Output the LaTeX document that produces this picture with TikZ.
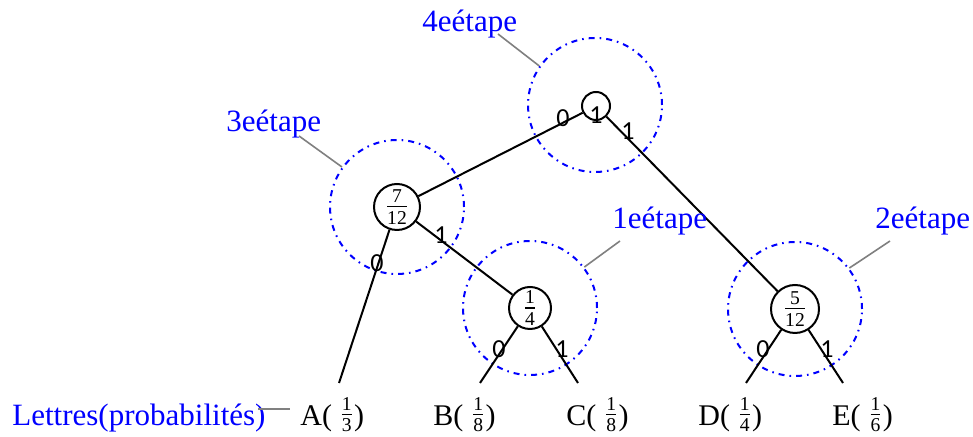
\documentclass[tikz,border=0pt]{standalone}
\usepackage{amsmath}
\usepackage{fontspec}
\setmainfont{Liberation Serif}
\newfontfamily\bitfont{Carlito}
\newcommand\fr[2]{{\fontsize{14}{16}\selectfont\raisebox{2pt}{$\frac{\text{#1}}{\text{#2}}$}}}

\begin{document}
\begin{tikzpicture}[x=0.5pt,y=0.5pt,
  nd/.style={draw=black,circle,line width=1pt,inner sep=0pt},
  stage/.style={draw=blue,circle,line width=1pt,inner sep=0pt,minimum size=67pt,
    dash pattern=on 3pt off 2.5pt on 0.8pt off 2.5pt},
  branch/.style={draw=black,line width=1pt},
  bit/.style={inner sep=0pt,font=\bitfont\fontsize{13}{15}\selectfont},
  stagetxt/.style={text=blue,anchor=base west,inner sep=0pt,font=\fontsize{15.5}{18}\selectfont},
  leaf/.style={anchor=base west,inner sep=0pt,font=\fontsize{15}{18}\selectfont},
  callout/.style={draw=gray,line width=0.8pt}]
\path[use as bounding box,fill=white] (0,0) rectangle (973,437);

\begin{scope}
\node[stage] (c4) at (595,332) {};
\node[stage] (c3) at (397,230) {};
\node[stage] (c1) at (530,129) {};
\node[stage] (c2) at (795,128) {};
\end{scope}

\begin{scope}
\node[nd,minimum size=14pt,font=\bitfont\fontsize{13}{15}\selectfont] (root) at (596,331) {\smash{\raisebox{-9pt}{1}}};
\node[nd,minimum size=23pt] (n712) at (397,230) {\fr{7}{12}};
\node[nd,minimum size=21pt] (n14) at (530,129) {\fr{1}{4}};
\node[nd,minimum size=24pt] (n512) at (795,128) {\fr{5}{12}};

\coordinate (endA) at (339,54);
\coordinate (endB) at (480,54);
\coordinate (endC) at (578,54);
\coordinate (endD) at (746,54);
\coordinate (endE) at (843,54);

\path[branch] (root) -- (n712);
\path[branch] (root) -- (n512);
\path[branch] (n712) -- (endA);
\path[branch] (n712) -- (n14);
\path[branch] (n14) -- (endB);
\path[branch] (n14) -- (endC);
\path[branch] (n512) -- (endD);
\path[branch] (n512) -- (endE);

\node[bit] (b1) at (563,319) {0};
\node[bit] (b2) at (628,306) {1};
\node[bit] (b3) at (377,174) {0};
\node[bit] (b4) at (441,202) {1};
\node[bit] (b5) at (499,88) {0};
\node[bit] (b6) at (562,88) {1};
\node[bit] (b7) at (763,88) {0};
\node[bit] (b8) at (827,88) {1};
\end{scope}

\begin{scope}
\node[stagetxt] (s4) at (422,405) {4eétape};
\node[stagetxt] (s3) at (226,305) {3eétape};
\node[stagetxt] (s1) at (612,208) {1eétape};
\node[stagetxt] (s2) at (875,208) {2eétape};

\coordinate (t4) at (498,403);
\coordinate (t3) at (299,301);
\coordinate (t1) at (620,196);
\coordinate (t2) at (890,196);

\path[callout] (t4) -- (c4.145);
\path[callout] (t3) -- (c3.144);
\path[callout] (t1) -- (c1.37);
\path[callout] (t2) -- (c2.37);
\end{scope}

\begin{scope}
\node[stagetxt] (key) at (12,11) {Lettres(probabilités)};
\coordinate (k0) at (258,28);
\coordinate (k1) at (290,28);
\path[callout] (k0) -- (k1);

\node[leaf] (lA) at (300,11) {A( \fr{1}{3})};
\node[leaf] (lB) at (433,11) {B( \fr{1}{8})};
\node[leaf] (lC) at (566,11) {C( \fr{1}{8})};
\node[leaf] (lD) at (698,11) {D( \fr{1}{4})};
\node[leaf] (lE) at (832,11) {E( \fr{1}{6})};
\end{scope}
\end{tikzpicture}
\end{document}
